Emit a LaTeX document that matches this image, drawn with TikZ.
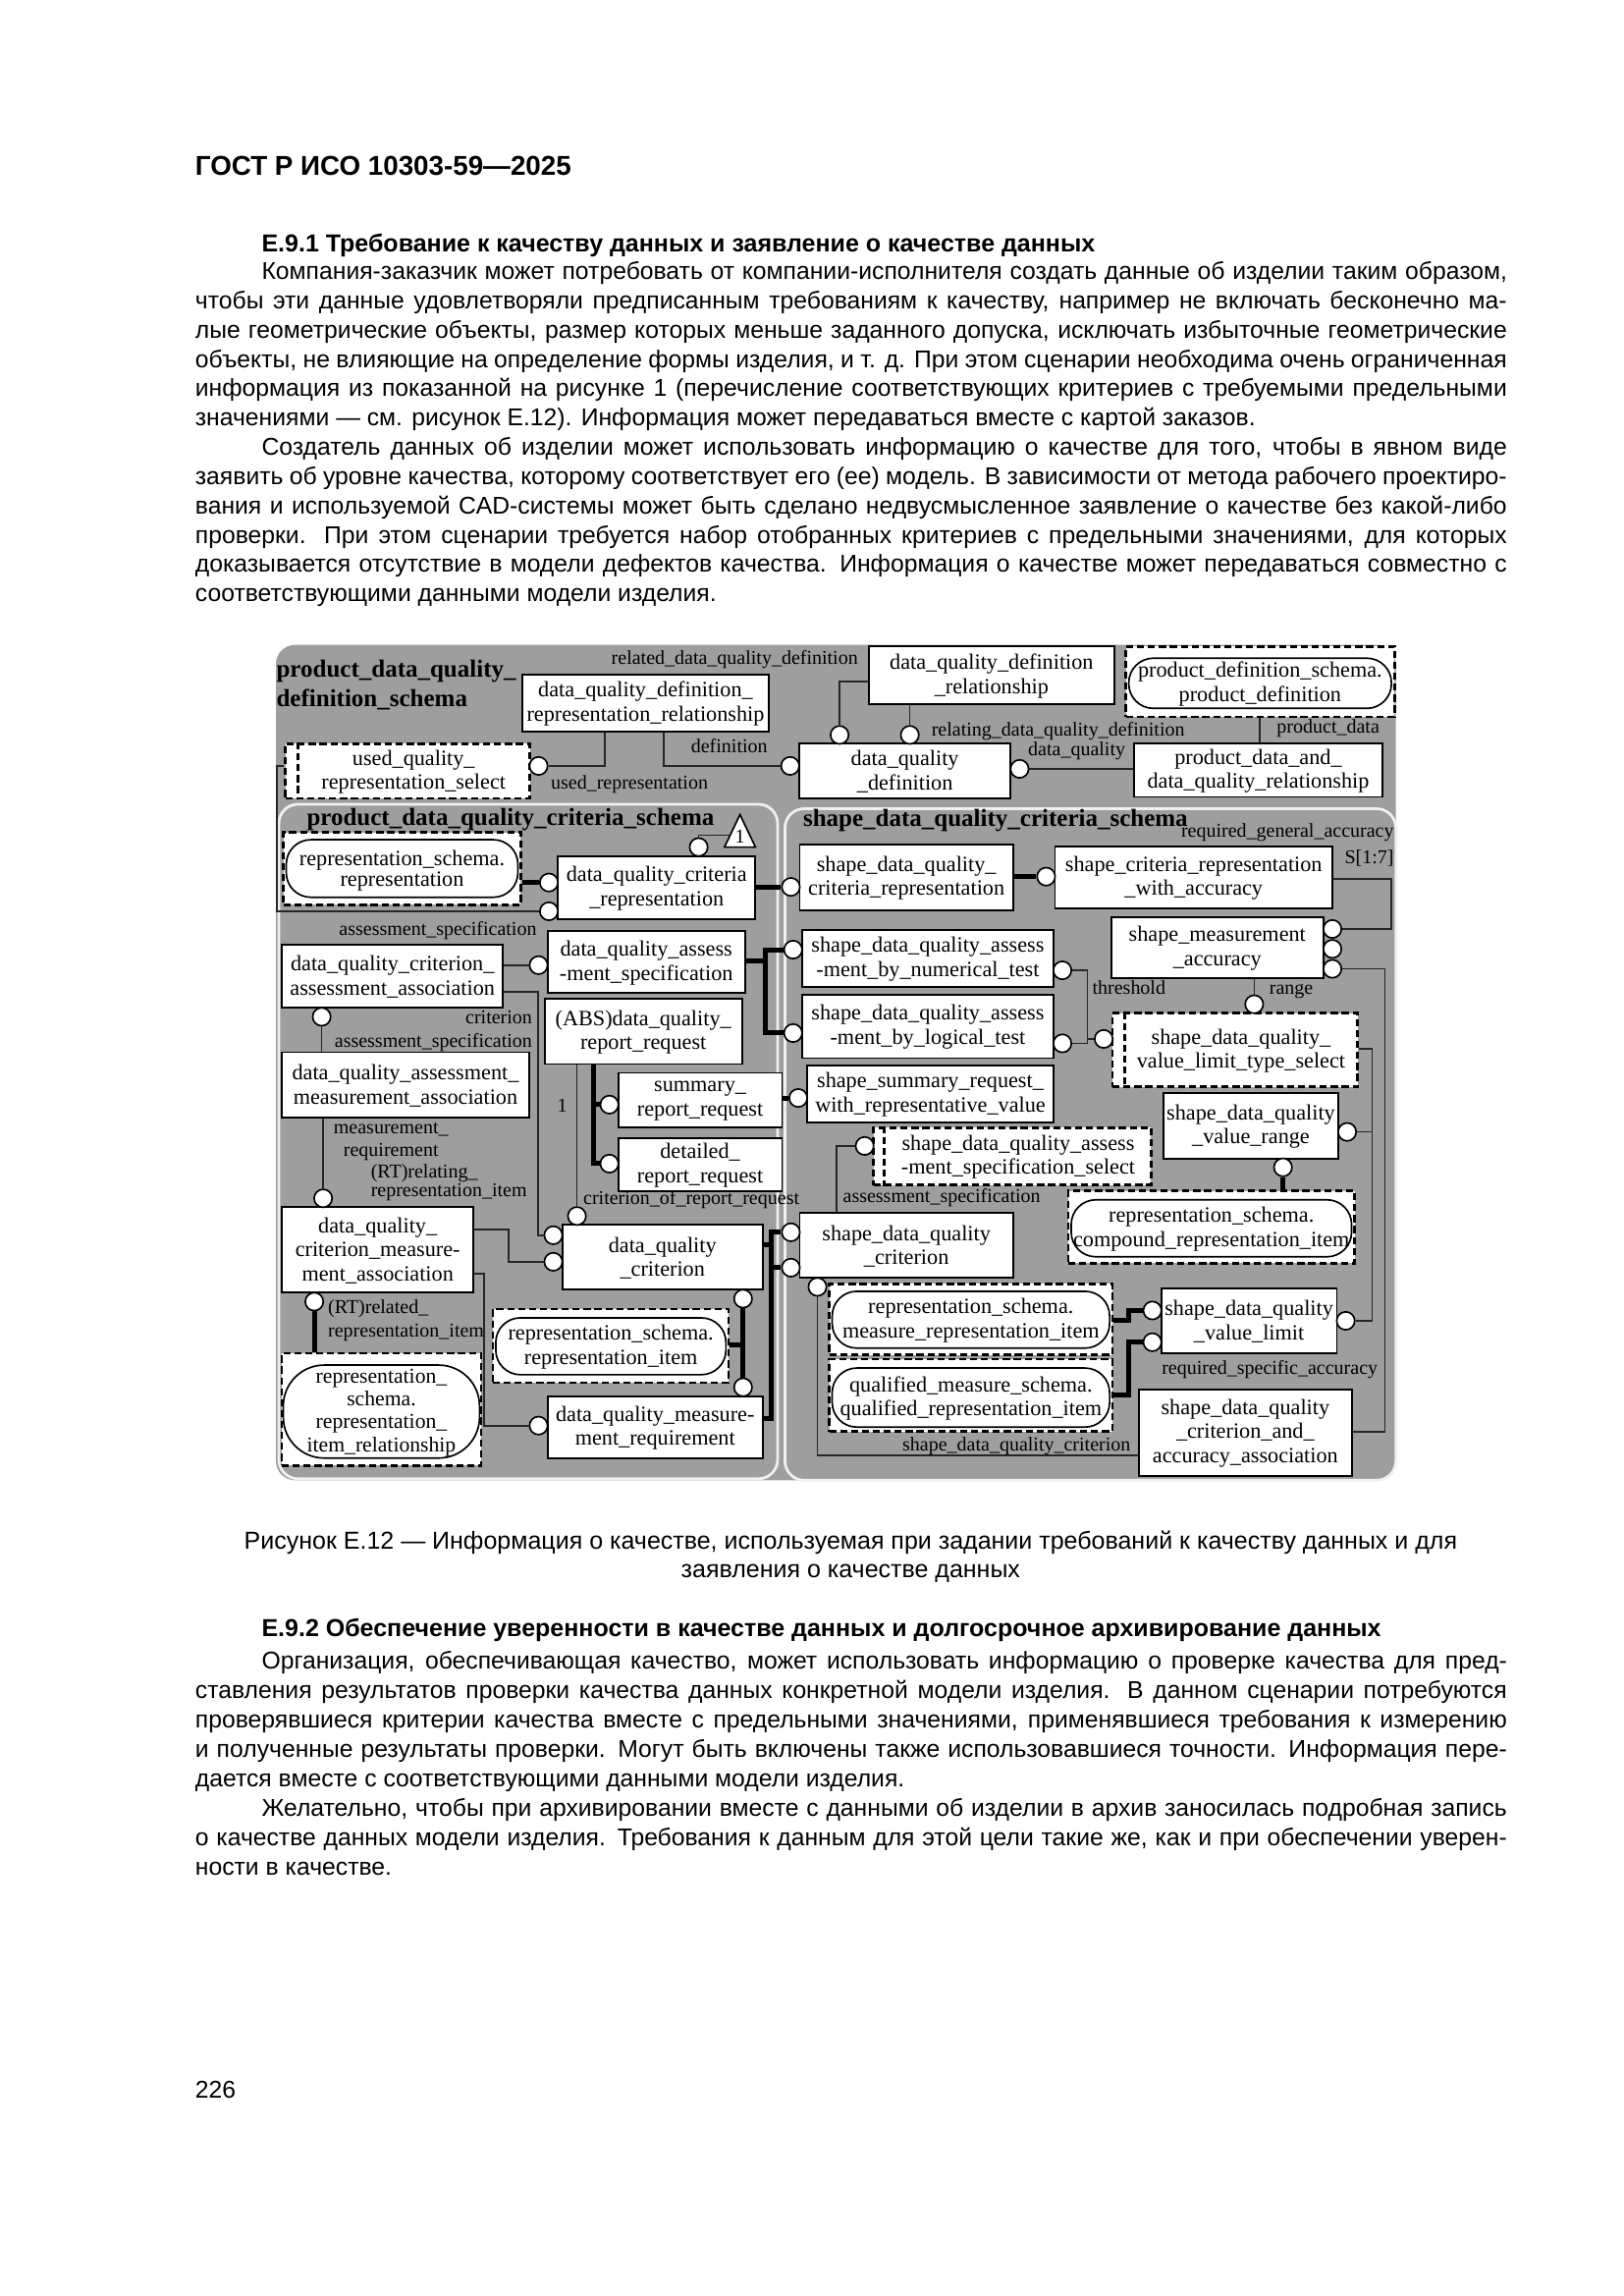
\documentclass[tikz,border=0pt]{standalone}
\usepackage{fontspec}
\setmainfont{Liberation Sans}
\newfontfamily\rkserif{Liberation Serif}
\usetikzlibrary{fit}
\definecolor{schemagray}{gray}{0.62}
\newcommand\rkbox{\rkserif\fontsize{8}{8.9}\selectfont}
\newcommand\rklbl{\rkserif\fontsize{7.2}{8}\selectfont}
\newcommand\rkttl{\rkserif\bfseries\fontsize{9}{11}\selectfont}
\newcommand\rkbody{\fontsize{8.9}{10.7}\selectfont}
\newcommand\rkcap{\fontsize{9}{10.7}\selectfont}
\newcommand\rkhead{\bfseries\fontsize{9}{10.7}\selectfont}
\newcommand\rkjl[1]{\hbox to 480.9pt{#1}}
\newcommand\rkji[1]{\hbox to 456.6pt{#1}}
% entity box: name, corners, text
\newcommand\rkent[3]{\node[ebox, fit={#2}] (#1) {};
  \node[btx] (#1t) at ([yshift=-0.3pt]#1.center) {#3};}
% select box: name, corners, x of inner dashed line, text
\newcommand\rksel[4]{\node[dbox, fill=white, fit={#2}] (#1) {};
  \coordinate (#1x) at (#3,0);
  \draw[dbox] (#1.north -| #1x) -- (#1.south -| #1x);
  \node[btx] (#1t) at ([yshift=-0.3pt, xshift=2.2pt]#1.center) {#4};}
% reference box: name, outer corners, inner corners, text
\newcommand\rkref[4]{\node[dbox, fill=white, fit={#2}] (#1) {};
  \node[stad, fit={#3}] (#1i) {};
  \node[btx] (#1t) at ([yshift=-0.3pt]#1i.center) {#4};}
\begin{document}
\begin{tikzpicture}[x=0.541pt,y=-0.541pt,
  ebox/.style={draw=black, fill=white, line width=0.7pt, inner sep=0pt},
  btx/.style={inner sep=0pt, align=center, font=\rkbox},
  dbox/.style={draw=black, dash pattern=on 2.6pt off 1.4pt, line width=1pt, inner sep=0pt},
  stad/.style={draw=black, fill=white, line width=0.6pt, rounded corners=9pt, inner sep=0pt},
  oc/.style={circle, draw=black, fill=white, line width=0.6pt, minimum size=6.6pt, inner sep=0pt},
  conn/.style={draw=black!85, line width=0.6pt},
  thk/.style={draw=black, line width=1.8pt},
  lbl/.style={font=\rklbl, inner sep=0pt},
  ttl/.style={font=\rkttl, inner sep=0pt, anchor=base west},
  body/.style={font=\rkbody, inner sep=0pt, anchor=base west}]
\useasboundingbox (0,0) rectangle (1100,1555.8);
\fill[white] (0,0) rectangle (1100,1555.8);

% ---------------- page text ----------------
\node[anchor=base west, inner sep=0pt, font=\bfseries\fontsize{10}{12}\selectfont] (hdr) at (132,118.5) {ГОСТ Р ИСО 10303-59—2025};
\node[anchor=base west, inner sep=0pt, font=\rkhead] (h1) at (177,170.6) {Е.9.1 Требование к качеству данных и заявление о качестве данных};
\node[body] (p1a) at (177,189.4) {\rkji{Компания-заказчик может потребовать от компании-исполнителя создать данные об изделии таким образом,}};
\node[body] (p1b) at (132,209.25) {\rkjl{чтобы эти данные удовлетворяли предписанным требованиям к качеству, например не включать бесконечно ма-}};
\node[body] (p1c) at (132,229.1) {\rkjl{лые геометрические объекты, размер которых меньше заданного допуска, исключать избыточные геометрические}};
\node[body] (p1d) at (132,248.95) {\rkjl{объекты, не влияющие на определение формы изделия, и т. д. При этом сценарии необходима очень ограниченная}};
\node[body] (p1e) at (132,268.8) {\rkjl{информация из показанной на рисунке 1 (перечисление соответствующих критериев с требуемыми предельными}};
\node[body] (p1f) at (132,288.65) {значениями — см. рисунок Е.12). Информация может передаваться вместе с картой заказов.};
\node[body] (p2a) at (177,308.5) {\rkji{Создатель данных об изделии может использовать информацию о качестве для того, чтобы в явном виде}};
\node[body] (p2b) at (132,328.35) {\rkjl{заявить об уровне качества, которому соответствует его (ее) модель. В зависимости от метода рабочего проектиро-}};
\node[body] (p2c) at (132,348.2) {\rkjl{вания и используемой CAD-системы может быть сделано недвусмысленное заявление о качестве без какой-либо}};
\node[body] (p2d) at (132,368.05) {\rkjl{проверки. При этом сценарии требуется набор отобранных критериев с предельными значениями, для которых}};
\node[body] (p2e) at (132,387.9) {\rkjl{доказывается отсутствие в модели дефектов качества. Информация о качестве может передаваться совместно с}};
\node[body] (p2f) at (132,407.75) {соответствующими данными модели изделия.};

\node[anchor=base, inner sep=0pt, font=\rkcap] (cap1) at (576.5,1050) {Рисунок Е.12 — Информация о качестве, используемая при задании требований к качеству данных и для};
\node[anchor=base, inner sep=0pt, font=\rkcap] (cap2) at (576.5,1069) {заявления о качестве данных};

\node[anchor=base west, inner sep=0pt, font=\rkhead] (h2) at (177,1109) {Е.9.2 Обеспечение уверенности в качестве данных и долгосрочное архивирование данных};
\node[body] (p3a) at (177,1131) {\rkji{Организация, обеспечивающая качество, может использовать информацию о проверке качества для пред-}};
\node[body] (p3b) at (132,1150.95) {\rkjl{ставления результатов проверки качества данных конкретной модели изделия. В данном сценарии потребуются}};
\node[body] (p3c) at (132,1170.9) {\rkjl{проверявшиеся критерии качества вместе с предельными значениями, применявшиеся требования к измерению}};
\node[body] (p3d) at (132,1190.85) {\rkjl{и полученные результаты проверки. Могут быть включены также использовавшиеся точности. Информация пере-}};
\node[body] (p3e) at (132,1210.8) {дается вместе с соответствующими данными модели изделия.};
\node[body] (p4a) at (177,1230.75) {\rkji{Желательно, чтобы при архивировании вместе с данными об изделии в архив заносилась подробная запись}};
\node[body] (p4b) at (132,1250.7) {\rkjl{о качестве данных модели изделия. Требования к данным для этой цели такие же, как и при обеспечении уверен-}};
\node[body] (p4c) at (132,1270.65) {ности в качестве.};
\node[body] (pgno) at (132,1421.6) {226};

% ---------------- schema backgrounds ----------------
\fill[schemagray, rounded corners=7pt] (187,437) rectangle (946,1003);
\draw[white!85!schemagray, line width=1pt, fill=schemagray, rounded corners=7pt] (189,545) rectangle (527,1002);
\draw[white!85!schemagray, line width=1pt, fill=schemagray, rounded corners=7pt] (532,548) rectangle (946,1003);

\node[ttl] (ttl1) at (187,459) {product\_data\_quality\_};
\node[ttl] (ttl2) at (187,479) {definition\_schema};
\node[ttl] (ttl3) at (207.6,559) {product\_data\_quality\_criteria\_schema};
\node[ttl] (ttl4) at (544,560) {shape\_data\_quality\_criteria\_schema};

% ---------------- entity boxes ----------------
\rkent{Bdqdrr}{(354,457) (521,496)}{data\_quality\_definition\_\\representation\_relationship}
\rkent{Bdqdr}{(589,438) (755,477)}{data\_quality\_definition\\\_relationship}
\rkent{Bdqd}{(541.6,504) (685,541)}{data\_quality\\\_definition}
\rkent{Bpdadqr}{(768.5,504) (937,540)}{product\_data\_and\_\\data\_quality\_relationship}
\rkent{Bdqcr}{(378,580) (512,623)}{data\_quality\_criteria\\\_representation}
\rkent{Bsdqcr}{(542,572) (686.6,617)}{shape\_data\_quality\_\\criteria\_representation}
\rkent{Bscrwa}{(715,573.5) (903,615.4)}{shape\_criteria\_representation\\\_with\_accuracy}
\rkent{Bdqcaa}{(191,640) (341,683)}{data\_quality\_criterion\_\\assessment\_association}
\rkent{Bdqas}{(371,631) (505,673)}{data\_quality\_assess\\-ment\_specification}
\rkent{Bsdqan}{(543.6,630) (714,668.6)}{shape\_data\_quality\_assess\\-ment\_by\_numerical\_test}
\rkent{Bsmeas}{(753,621.5) (897,663)}{shape\_measurement\\\_accuracy}
\rkent{Babs}{(369,677) (503,721)}{(ABS)data\_quality\_\\report\_request}
\rkent{Bsdqal}{(543.6,674) (714,717)}{shape\_data\_quality\_assess\\-ment\_by\_logical\_test}
\rkent{Bdqamaa}{(191,713) (358.6,757)}{data\_quality\_assessment\_\\measurement\_association}
\rkent{Bsumm}{(419,727) (530,764)}{summary\_\\report\_request}
\rkent{Bssrwrv}{(547,722) (714,760.6)}{shape\_summary\_request\_\\with\_representative\_value}
\rkent{Bsdqvr}{(788.5,740.6) (907,785)}{shape\_data\_quality\\\_value\_range}
\rkent{Bdet}{(419,771) (530,807)}{detailed\_\\report\_request}
\rkent{Bdqcma}{(191,818) (321,876)}{data\_quality\_\\criterion\_measure-\\ment\_association}
\rkent{Bdqc}{(381,830) (517,874)}{data\_quality\\\_criterion}
\rkent{Bsdqc}{(542,822) (686.6,866)}{shape\_data\_quality\\\_criterion}
\rkent{Bsdqvl}{(787,873) (906,917)}{shape\_data\_quality\\\_value\_limit}
\rkent{Bdqmr}{(371,946) (517,988)}{data\_quality\_measure-\\ment\_requirement}
\rkent{Bsdqcaa}{(772,941.5) (916,1000)}{shape\_data\_quality\\\_criterion\_and\_\\accuracy\_association}

% ---------------- select types ----------------
\rksel{Suqrs}{(193.5,504) (359,541)}{202}{used\_quality\_\\representation\_select}
\rksel{Ssdqass}{(592,764) (780,803)}{599}{shape\_data\_quality\_assess\\-ment\_specification\_select}
\rksel{Ssdqvlts}{(754,686.6) (920,736.5)}{762}{shape\_data\_quality\_\\value\_limit\_type\_select}

% ---------------- references to other schemas ----------------
\rkref{Rpd}{(763,438) (945,485.7)}{(765,446) (943,480)}{product\_definition\_schema.\\product\_definition}
\node[dbox, fill=white, fit={(192,564) (353,613)}] (Rrep) {};
\node[stad, fit={(194,569) (351,608)}] (Rrepi) {};
\node[btx, font=\rkserif\fontsize{8}{7.4}\selectfont] (Rrept) at ([yshift=-0.8pt]Rrepi.center) {representation\_schema.\\representation};
\rkref{Rcri}{(724,807) (918,856)}{(726,813) (916,851.6)}{representation\_schema.\\compound\_representation\_item}
\rkref{Rri}{(334,887) (493.7,937)}{(336,893) (492,931.5)}{representation\_schema.\\representation\_item}
\node[dbox, fill=white, fit={(191,917) (326,993)}] (Rrir) {};
\node[stad, rounded corners=15pt, fit={(192,925) (325,988)}] (Rriri) {};
\node[btx, font=\rkserif\fontsize{7.8}{8.4}\selectfont] (Rrirt) at ([yshift=-0.3pt]Rriri.center) {representation\_\\schema.\\representation\_\\item\_relationship};
\rkref{Rmri}{(562,870) (754,918)}{(564,875) (752,913.5)}{representation\_schema.\\measure\_representation\_item}
\rkref{Rqri}{(562,921) (754,970)}{(564,927) (752,967)}{qualified\_measure\_schema.\\qualified\_representation\_item}

% triangle
\draw[fill=white, line width=0.6pt] (491,574) -- (512,574) -- (501.5,552) -- cycle;
\node[font=\rklbl, inner sep=0pt] (tri1) at (501.5,567) {1};
\coordinate (triL) at (494.8,566);

% ---------------- circles ----------------
\node[oc] (c1) at (365,519) {};
\node[oc] (c2) at (535.5,519) {};
\node[oc] (c3) at (569,498) {};
\node[oc] (c4) at (616.6,498) {};
\node[oc] (c5) at (691,521) {};
\node[oc] (c6) at (372,598) {};
\node[oc] (c7) at (372,617.5) {};
\node[oc] (c8) at (473.5,574) {};
\node[oc] (c9) at (536,601) {};
\node[oc] (c10) at (709,594) {};
\node[oc] (c11) at (903,629.5) {};
\node[oc] (c12) at (903,643) {};
\node[oc] (c13) at (903,656.5) {};
\node[oc] (c14) at (365,654) {};
\node[oc] (c15) at (537.5,643.5) {};
\node[oc] (c16) at (537.5,700) {};
\node[oc] (c17) at (720,657.5) {};
\node[oc] (c18) at (720,707) {};
\node[oc] (c19) at (748,704) {};
\node[oc] (c20) at (850,680.5) {};
\node[oc] (c21) at (218,689) {};
\node[oc] (c22) at (413,748.5) {};
\node[oc] (c23) at (413,788.5) {};
\node[oc] (c24) at (541,744) {};
\node[oc] (c25) at (586,776.5) {};
\node[oc] (c26) at (913,767) {};
\node[oc] (c27) at (869.5,791) {};
\node[oc] (c28) at (219,812) {};
\node[oc] (c29) at (391,824) {};
\node[oc] (c30) at (375,837) {};
\node[oc] (c31) at (375,855) {};
\node[oc] (c32) at (536,835) {};
\node[oc] (c33) at (536,859) {};
\node[oc] (c34) at (554,872) {};
\node[oc] (c35) at (213,882) {};
\node[oc] (c36) at (503.6,880) {};
\node[oc] (c37) at (503.6,940) {};
\node[oc] (c38) at (365,966) {};
\node[oc] (c39) at (912,895) {};
\node[oc] (c40) at (781,888) {};
\node[oc] (c41) at (781,909.5) {};

% ---------------- thin connectors ----------------
\coordinate (k1) at (410,519);
\draw[conn] (Bdqdrr.south -| k1) -- (k1) -- (c1);
\coordinate (k2) at (450,519);
\draw[conn] (Bdqdrr.south -| k2) -- (k2) -- (c2);
\coordinate (k3) at (569,462);
\draw[conn] (Bdqdr.west |- k3) -- (k3) -- (c3);
\draw[conn] (Bdqdr.south -| c4) -- (c4);
\draw[conn] (c5) -- (Bpdadqr.west |- c5);
\coordinate (k6) at (853.8,495);
\draw[conn] (Bpdadqr.north -| k6) -- (Rpd.south -| k6);
\coordinate (k7) at (187.6,519);
\coordinate (k7b) at (187.6,617.5);
\draw[conn] (Suqrs.west |- k7) -- (k7) -- (k7b) -- (c7);
\coordinate (k8) at (473.5,566);
\draw[conn] (c8) -- (k8) -- (triL);
\draw[conn] (Bdqcaa.east |- c14) -- (c14);
\coordinate (k10a) at (364.6,672);
\coordinate (k10b) at (364.6,837);
\draw[conn] (Bdqcaa.east |- k10a) -- (k10a) -- (k10b) -- (c30);
\draw[conn] (c21) -- (Bdqamaa.north -| c21);
\draw[conn] (Bdqamaa.south -| c28) -- (c28);
\draw[conn] (Babs.south -| c29) -- (c29);
\coordinate (k14a) at (344.6,833);
\coordinate (k14b) at (344.6,855);
\draw[conn] (Bdqcma.east |- k14a) -- (k14a) -- (k14b) -- (c31);
\coordinate (k15a) at (328,863);
\coordinate (k15b) at (328,966);
\draw[conn] (Bdqcma.east |- k15a) -- (k15a) -- (k15b) -- (c38);
\coordinate (k16a) at (737,657.5);
\coordinate (k16b) at (737,704);
\coordinate (k16c) at (737,707);
\draw[conn] (c17) -- (k16a) -- (k16c);
\draw[conn] (k16b) -- (c19);
\draw[conn] (c18) -- (k16c);
\draw[conn] (c20) -- (Bsmeas.south -| c20);
\coordinate (k18a) at (930,710.7);
\coordinate (k18b) at (930,895);
\coordinate (k18c) at (930,767);
\draw[conn] (Ssdqvlts.east |- k18a) -- (k18a) -- (k18b) -- (c39);
\draw[conn] (c26) -- (k18c);
\coordinate (k19a) at (942.7,595.5);
\coordinate (k19b) at (942.7,629.5);
\draw[conn] (Bscrwa.east |- k19a) -- (k19a) -- (k19b) -- (c11);
\coordinate (k20a) at (938.5,656.5);
\coordinate (k20b) at (938.5,970);
\draw[conn] (c13) -- (k20a) -- (k20b) -- (Bsdqcaa.east |- k20b);
\coordinate (k21a) at (567,776.5);
\draw[conn] (c25) -- (k21a) -- (Bsdqc.north -| k21a);
\coordinate (k22a) at (554,986);
\draw[conn] (c34) -- (k22a) -- (Bsdqcaa.west |- k22a);

% ---------------- thick connectors ----------------
\draw[thk] (Rrep.east |- c6) -- (c6);
\draw[thk] (Bdqcr.east |- c9) -- (c9);
\draw[thk] (Bsdqcr.east |- c10) -- (c10);
\coordinate (t4a) at (519,651);
\coordinate (t4b) at (519,643.5);
\coordinate (t4c) at (519,700);
\draw[thk] (Bdqas.east |- t4a) -- (t4a);
\draw[thk] (c15) -- (t4b) -- (t4c) -- (c16);
\coordinate (t5a) at (402.5,748.5);
\coordinate (t5b) at (402.5,788.5);
\draw[thk] (Babs.south -| t5a) -- (t5b) -- (c23);
\draw[thk] (t5a) -- (c22);
\draw[thk] (Bsumm.east |- c24) -- (c24);
\draw[thk] (c27) -- (Rcri.north -| c27);
\coordinate (t8a) at (523,843.6);
\coordinate (t8b) at (523,835);
\coordinate (t8c) at (523,859);
\coordinate (t8d) at (523,961);
\draw[thk] (Bdqc.east |- t8a) -- (t8a);
\draw[thk] (c32) -- (t8b) -- (t8d) -- (Bdqmr.east |- t8d);
\draw[thk] (c33) -- (t8c);
\draw[thk] (c35) -- (Rrir.north -| c35);
\draw[thk] (c36) -- (c37);
\coordinate (t10a) at (503.6,911);
\draw[thk] (Rri.east |- t10a) -- (t10a);
\coordinate (t11a) at (765,895);
\coordinate (t11b) at (765,888);
\coordinate (t11c) at (765,945);
\coordinate (t11d) at (765,909.5);
\draw[thk] (Rmri.east |- t11a) -- (t11a) -- (t11b) -- (c40);
\draw[thk] (Rqri.east |- t11c) -- (t11c) -- (t11d) -- (c41);

% ---------------- attribute labels ----------------
\node[lbl, anchor=base west] (l1) at (414,450) {related\_data\_quality\_definition};
\node[lbl, anchor=base west] (l2) at (468,510) {definition};
\node[lbl, anchor=base west] (l3) at (373,535) {used\_representation};
\node[lbl, anchor=base west] (l4) at (631,499) {relating\_data\_quality\_definition};
\node[lbl, anchor=base east] (l5) at (763,512) {data\_quality};
\node[lbl, anchor=base west] (l6) at (865,497) {product\_data};
\node[lbl, anchor=base west] (l7) at (229.5,634) {assessment\_specification};
\node[lbl, anchor=base east] (l8) at (361,693.6) {criterion};
\node[lbl, anchor=base east] (l9) at (361,709.6) {assessment\_specification};
\node[lbl, anchor=base] (l10) at (265,768) {measurement\_};
\node[lbl, anchor=base] (l11) at (265,783.5) {requirement};
\node[lbl, anchor=base west] (l12) at (251,798) {(RT)relating\_};
\node[lbl, anchor=base west] (l13) at (251,811) {representation\_item};
\node[lbl, anchor=base] (l14) at (381,753.6) {1};
\node[lbl, anchor=base west] (l15) at (395,816) {criterion\_of\_report\_request};
\node[lbl, anchor=base west] (l16) at (571,815) {assessment\_specification};
\node[lbl, anchor=base west] (l17) at (740,674) {threshold};
\node[lbl, anchor=base west] (l18) at (860,674) {range};
\node[lbl, anchor=base east] (l19) at (945,567) {required\_general\_accuracy};
\node[lbl, anchor=base east] (l20) at (945,585) {S[1:7]};
\node[lbl, anchor=base west] (l21) at (787,931) {required\_specific\_accuracy};
\node[lbl, anchor=base east] (l22) at (766.5,983) {shape\_data\_quality\_criterion};
\node[lbl, anchor=base west] (l23) at (222,890) {(RT)related\_};
\node[lbl, anchor=base west] (l24) at (222,906) {representation\_item};
\end{tikzpicture}
\end{document}
